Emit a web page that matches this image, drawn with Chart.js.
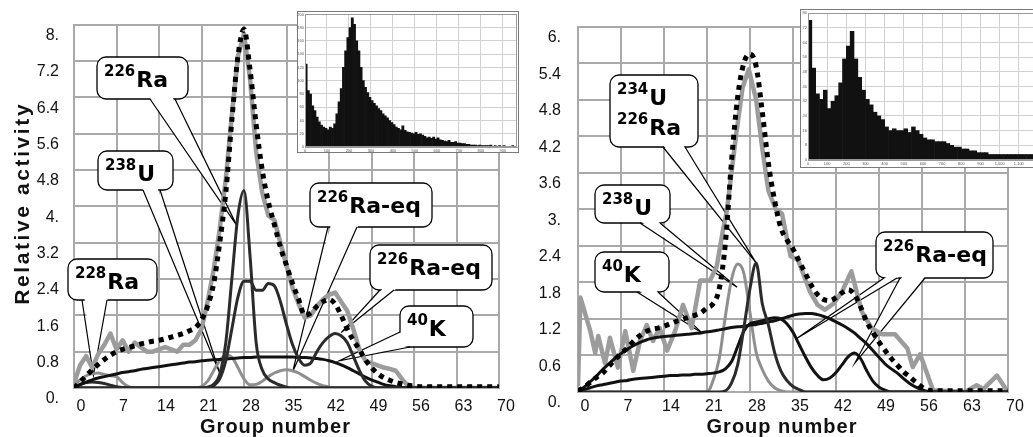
<!DOCTYPE html>
<html><head><meta charset="utf-8">
<script src="https://cdn.jsdelivr.net/npm/chart.js@4/dist/chart.umd.min.js"></script>
<style>
html,body{margin:0;padding:0;background:#fff;width:1033px;height:437px;overflow:hidden;position:relative;}
canvas{position:absolute;}
</style></head><body>
<canvas id="left" width="520" height="437" style="left:0;top:0"></canvas>
<canvas id="right" width="528" height="437" style="left:505px;top:0"></canvas>
<canvas id="insetL" width="222" height="142" style="left:297px;top:11px"></canvas>
<canvas id="insetR" width="244" height="159" style="left:800px;top:9px"></canvas>
<script>
// ---------------- DATA ----------------
const groups = [0,1,2,3,4,5,6,7,8,9,10,11,12,13,14,15,16,17,18,19,20,21,22,23,24,25,26,27,28,29,30,31,32,33,34,35,36,37,38,39,40,41,42,43,44,45,46,47,48,49,50,51,52,53,54,55,56,57,58,59,60,61,62,63,64,65,66,67,68,69,70];

// Left panel
const L_total = [0,0.13,0.27,0.4,0.52,0.63,0.72,0.8,0.85,0.89, 0.93,0.97,1.0,1.03,1.05,1.08,1.12,1.16,1.2,1.26, 1.33,1.5,1.8,2.3,3.2,4.3,5.9,7.3,7.9,7.0, 5.8,4.8,4.1,3.6,3.1,2.7,2.3,1.95,1.6,1.65, 1.8,1.9,1.95,1.85,1.6,1.3,1.05,0.85,0.62,0.45, 0.32,0.23,0.17,0.12,0.09,0.06,0.04,0.03,0.03,0.03, 0.03,0.03,0.03,0.03,0.03,0.03,0.03,0.03,0.03,0.03, 0.03];
const L_measured = [0.1,0.5,0.7,0.45,0.75,0.95,1.2,0.85,1.05,0.8, 1.0,0.9,0.8,0.8,0.85,0.9,0.85,0.8,0.95,0.95, 1.05,1.3,1.9,2.6,3.5,4.6,6.0,7.3,7.8,6.8, 5.2,4.3,3.8,3.7,3.2,2.7,2.2,1.85,1.55,1.6, 1.8,1.95,2.05,2.1,1.9,1.7,1.3,0.85,0.6,0.55, 0.5,0.45,0.42,0.38,0.2,0.05,0,0,0,0, 0,0,0,0,0,0,0,0,0,0, 0];
const L_Ra226 = [0,0,0,0,0,0,0,0,0,0, 0,0,0,0,0,0,0,0,0,0, 0,0,0.02,0.08,0.3,1.0,2.4,3.8,4.35,2.9, 1.0,0.4,0.2,0.12,0.06,0.02,0,0,0,0, 0,0,0,0,0,0,0,0,0,0, 0,0,0,0,0,0,0,0,0,0, 0,0,0,0,0,0,0,0,0,0, 0];
const L_RaEq = [0,0,0,0,0,0,0,0,0,0, 0,0,0,0,0,0,0,0,0,0, 0,0,0,0.05,0.2,0.6,1.3,2.0,2.35,2.35, 2.15,2.15,2.3,2.25,1.9,1.4,0.95,0.65,0.5,0.55, 0.8,1.0,1.13,1.2,1.15,1.0,0.7,0.39,0.15,0.04, 0,0,0,0,0,0,0,0,0,0, 0,0,0,0,0,0,0,0,0,0, 0];
const L_K40 = [0,0.07,0.13,0.18,0.22,0.25,0.28,0.31,0.34,0.36, 0.38,0.41,0.43,0.45,0.47,0.49,0.51,0.53,0.55,0.57, 0.58,0.6,0.61,0.62,0.63,0.64,0.65,0.66,0.67,0.67, 0.68,0.68,0.68,0.68,0.68,0.68,0.68,0.67,0.67,0.66, 0.65,0.63,0.6,0.56,0.51,0.45,0.38,0.31,0.24,0.18, 0.13,0.08,0.05,0.03,0.01,0,0,0,0,0, 0,0,0,0,0,0,0,0,0,0, 0];
const L_U238 = [0,0,0,0,0,0,0,0,0,0, 0,0,0,0,0,0,0,0,0,0, 0,0.03,0.15,0.38,0.6,0.72,0.68,0.45,0.2,0.07, 0.08,0.15,0.25,0.33,0.38,0.4,0.38,0.33,0.25,0.17, 0.1,0.05,0.02,0,0,0,0,0,0,0, 0,0,0,0,0,0,0,0,0,0, 0,0,0,0,0,0,0,0,0,0, 0];
const L_Ra228 = [0.05,0.18,0.27,0.32,0.33,0.3,0.27,0.25,0.12,0.03, 0,0,0,0,0,0,0,0,0,0, 0,0,0,0,0,0,0,0,0,0, 0,0,0,0,0,0,0,0,0,0, 0,0,0,0,0,0,0,0,0,0, 0,0,0,0,0,0,0,0,0,0, 0,0,0,0,0,0,0,0,0,0, 0];
const L_Th = [0,0.08,0.12,0.13,0.12,0.1,0.06,0.03,0.01,0, 0,0,0,0,0,0,0,0,0,0, 0,0,0,0,0,0,0,0,0,0, 0,0,0,0,0,0,0,0,0,0, 0,0,0,0,0,0,0,0,0,0, 0,0,0,0,0,0,0,0,0,0, 0,0,0,0,0,0,0,0,0,0, 0];

// Right panel
const R_total = [0.02,0.08,0.16,0.24,0.31,0.42,0.53,0.63,0.72,0.83, 0.92,0.99,1.03,1.05,1.08,1.12,1.16,1.19,1.23,1.26, 1.3,1.38,1.45,1.7,2.45,3.8,4.85,5.4,5.55,5.35, 4.6,3.75,3.15,2.7,2.5,2.35,2.15,1.95,1.75,1.6, 1.52,1.5,1.55,1.63,1.68,1.6,1.4,1.15,0.98,0.82, 0.68,0.55,0.44,0.33,0.25,0.16,0.08,0.03,0.02,0.02, 0.02,0.02,0.02,0.02,0.02,0.02,0.02,0.02,0.02,0.02, 0.02];
const R_measuredX = [0,0.4,2,2.8,3.3,4.4,5.2,6.5,7.7,9,10.1,11.2,12.2,13.3,14.5,15.8,17.1,18.5,19.9,21.5,22.6,23.6,24.2,25.8,26.8,27.8,29,30,31,32.2,33.2,34.6,35.8,37.8,39,40.2,41.6,43,44.5,46.2,47.8,49.4,51.6,53.6,54.5,55.7,57.8,63,64.9,66,68.2,70];
const R_measuredY = [0.1,1.55,1.0,0.64,0.92,0.47,0.89,0.4,1.0,0.35,0.84,1.1,0.84,1.05,0.68,1.0,1.43,1.05,1.83,1.83,2.07,2.66,2.95,4.27,5.0,5.3,4.8,4.0,3.3,3.0,2.93,2.23,2.17,1.64,1.43,1.35,1.45,1.65,1.98,1.32,1.05,0.95,0.95,0.72,0.41,0.62,0.03,0,0.11,0.05,0.27,0];
const R_U234Ra226 = [0,0,0,0,0,0,0,0,0,0, 0,0,0,0,0,0,0,0,0,0, 0,0,0,0,0.02,0.15,0.45,1.05,1.7,2.12, 1.45,1.1,0.65,0.35,0.19,0.09,0.04,0,0,0, 0,0,0,0,0,0,0,0,0,0, 0,0,0,0,0,0,0,0,0,0, 0,0,0,0,0,0,0,0,0,0, 0];
const R_U238 = [0,0,0,0,0,0,0,0,0,0, 0,0,0,0,0,0,0,0,0,0, 0,0,0.19,0.55,1.25,1.85,2.1,1.95,1.3,0.65, 0.37,0.18,0.07,0.02,0,0,0,0,0,0, 0,0,0,0,0,0,0,0,0,0, 0,0,0,0,0,0,0,0,0,0, 0,0,0,0,0,0,0,0,0,0, 0];
const R_RaEq = [0,0.04,0.07,0.1,0.12,0.14,0.16,0.18,0.19,0.21, 0.22,0.23,0.24,0.25,0.26,0.27,0.27,0.28,0.28,0.29, 0.29,0.3,0.31,0.33,0.38,0.5,0.75,1.0,1.12,1.15, 1.17,1.2,1.22,1.2,1.12,0.98,0.78,0.58,0.4,0.27, 0.2,0.23,0.32,0.45,0.58,0.64,0.55,0.35,0.18,0.08, 0.03,0,0,0,0,0,0,0,0,0, 0,0,0,0,0,0,0,0,0,0, 0];
const R_K40 = [0,0.08,0.17,0.26,0.37,0.46,0.55,0.63,0.7,0.76, 0.81,0.85,0.88,0.9,0.91,0.92,0.93,0.94,0.95,0.96, 0.97,0.99,1.0,1.02,1.04,1.06,1.07,1.08,1.1,1.11, 1.13,1.15,1.17,1.2,1.23,1.26,1.28,1.29,1.29,1.27, 1.24,1.2,1.15,1.1,1.04,0.97,0.88,0.79,0.68,0.57, 0.46,0.38,0.31,0.22,0.14,0.08,0.04,0.01,0,0, 0,0,0,0,0,0,0,0,0,0, 0];

// Inset spectra (counts per channel bin)
const insetL_binWidth = 10;
const insetL_counts = [125,85,80,62,55,45,38,33,30,28, 26,30,28,35,50,68,88,120,145,165, 180,195,185,160,145,120,100,90,82,75, 70,66,62,58,55,50,47,44,40,37, 34,30,28,26,32,25,23,22,21,20, 22,19,20,18,16,14,15,13,15,12, 14,11,10,9,8,10,7,7,8,6, 6,5,5,4,4,3,3,3,2,3, 2,2,2,2,3,1,2,1,2,1, 2,1,1,1,2,1];
const insetR_binWidth = 20;
const insetR_counts = [76,50,36,33,38,28,32,35,42,55, 62,70,55,45,38,33,30,26,24,22, 18,16,17,16,16,17,15,18,16,14, 12,11,11,10,10,10,9,8,7,7, 6,6,5,5,4,4,4,3,3,3, 3,3,3,3,3,3,3,3,3,3];

// Tick settings
const xTickStep = 7;
const leftYMax = 8, leftYStep = 0.8;
const rightYMax = 6, rightYStep = 0.6;

// ---------------- HELPERS ----------------
Chart.defaults.font.family = '"Liberation Sans", Arial, sans-serif';
const GRID = '#a9a9a9';
const pts = (xs, ys) => ys.map((y, i) => ({x: xs[i], y}));
const fmtY = v => { const r = Math.round(v * 10) / 10; return Number.isInteger(r) ? r + '.' : r.toFixed(1); };

function lineDs(data, kind) {
  const base = {data, pointRadius: 0, fill: false, borderCapStyle: 'butt', borderJoinStyle: 'round'};
  if (kind === 'total') return Object.assign(base, {borderColor: '#000', borderWidth: 5, borderDash: [5, 5], cubicInterpolationMode: 'monotone'});
  if (kind === 'measured') return Object.assign(base, {borderColor: '#9c9c9c', borderWidth: 4.5, tension: 0});
  if (kind === 'dark') return Object.assign(base, {borderColor: '#2b2b2b', borderWidth: 3, cubicInterpolationMode: 'monotone'});
  if (kind === 'black') return Object.assign(base, {borderColor: '#111', borderWidth: 3, cubicInterpolationMode: 'monotone'});
  return Object.assign(base, {borderColor: '#8f8f8f', borderWidth: 3, cubicInterpolationMode: 'monotone'});
}

function calloutPlugin(items, offX) {
  return {
    id: 'callouts',
    beforeDatasetsDraw(chart) {
      const {ctx} = chart, xs = chart.scales.x, ys = chart.scales.y;
      ctx.save();
      for (const c of items) {
        const x1 = c.box[0] - offX, y1 = c.box[1], x2 = c.box[2] - offX, y2 = c.box[3];
        const r = 9;
        ctx.beginPath();
        ctx.moveTo(x1 + r, y1);
        ctx.arcTo(x2, y1, x2, y2, r); ctx.arcTo(x2, y2, x1, y2, r);
        ctx.arcTo(x1, y2, x1, y1, r); ctx.arcTo(x1, y1, x2, y1, r);
        ctx.closePath();
        ctx.fillStyle = '#fff'; ctx.fill();
        ctx.lineWidth = 1.3; ctx.strokeStyle = '#000'; ctx.stroke();
        const cx = (x1 + x2) / 2, cy = (y1 + y2) / 2;
        for (const w of c.wedges) {
          const tx = xs.getPixelForValue(w.tip[0]), ty = ys.getPixelForValue(w.tip[1]);
          const ax = w.a[0] - offX, ay = w.a[1], bx = w.b[0] - offX, by = w.b[1];
          const inw = (px, py) => { const dx = cx - px, dy = cy - py, d = Math.hypot(dx, dy); return [px + dx / d * 3, py + dy / d * 3]; };
          const ia = inw(ax, ay), ib = inw(bx, by);
          ctx.beginPath(); ctx.moveTo(ia[0], ia[1]); ctx.lineTo(tx, ty); ctx.lineTo(ib[0], ib[1]); ctx.closePath();
          ctx.fillStyle = '#fff'; ctx.fill();
          ctx.beginPath(); ctx.moveTo(ax, ay); ctx.lineTo(tx, ty); ctx.lineTo(bx, by);
          ctx.strokeStyle = '#000'; ctx.lineWidth = 1.2; ctx.stroke();
        }
        ctx.fillStyle = '#000'; ctx.textAlign = 'left'; ctx.textBaseline = 'alphabetic';
        c.lines.forEach((ln, i) => {
          let tx = x1 + 7; const base = y1 + 30 + 30 * i;
          ctx.font = 'bold 15px "DejaVu Sans"'; ctx.fillText(ln[0], tx, base - 11);
          tx += ctx.measureText(ln[0]).width + 1;
          ctx.font = 'bold 22px "DejaVu Sans"'; ctx.fillText(ln[1], tx, base);
        });
      }
      ctx.restore();
    }
  };
}

function titlePlugin(opts) {
  return {
    id: 'axisTitles',
    afterDraw(chart) {
      const {ctx} = chart;
      ctx.save();
      ctx.fillStyle = '#111'; ctx.textAlign = 'center'; ctx.textBaseline = 'alphabetic';
      ctx.font = 'bold 20px "Liberation Sans", Arial';
      ctx.letterSpacing = '1px';
      const a = chart.chartArea;
      ctx.fillText('Group number', (a.left + a.right) / 2 - 11, 433);
      if (opts.yTitle) {
        ctx.translate(29, (a.top + a.bottom) / 2 - 3);
        ctx.rotate(-Math.PI / 2);
        ctx.font = 'bold 21px "Liberation Sans", Arial';
        ctx.letterSpacing = '2.6px';
        ctx.fillText(opts.yTitle, 0, 0);
      }
      ctx.restore();
    }
  };
}

function mainChart(id, datasets, o) {
  return new Chart(document.getElementById(id), {
    type: 'line',
    data: {datasets},
    options: {
      responsive: false, animation: false, devicePixelRatio: 1,
      layout: {padding: {top: 19, right: o.padR, left: 0, bottom: 0}},
      plugins: {legend: {display: false}, tooltip: {enabled: false}},
      scales: {
        x: {type: 'linear', min: 0, max: 70,
            afterFit: s => { s.height = o.xH; },
            ticks: {stepSize: xTickStep, autoSkip: false, maxRotation: 0, padding: o.xPad, labelOffset: 7, color: '#111', font: {size: 16}},
            grid: {color: GRID, lineWidth: 2, drawTicks: false}, border: {color: GRID, width: 2}},
        y: {type: 'linear', min: 0, max: o.yMax,
            afterFit: s => { s.width = o.yW; },
            ticks: {stepSize: o.yStep, autoSkip: false, padding: o.yPad, labelOffset: 11, color: '#111', font: {size: 16}, callback: fmtY},
            grid: {color: GRID, lineWidth: 2, drawTicks: false}, border: {color: GRID, width: 2}}
      }
    },
    plugins: [calloutPlugin(o.callouts, o.offX), titlePlugin(o)]
  });
}

// ---------------- LEFT PANEL ----------------
const leftCallouts = [
  {box: [97, 57, 188, 99], lines: [['226', 'Ra']], wedges: [{a: [150, 99], b: [175, 99], tip: [26.8, 3.58]}]},
  {box: [98, 151, 173, 190], lines: [['238', 'U']], wedges: [{a: [143, 190], b: [160, 190], tip: [24.0, 0.33]}]},
  {box: [68, 259, 157, 300], lines: [['228', 'Ra']], wedges: [{a: [82, 300], b: [107, 300], tip: [3.2, 0.28]}]},
  {box: [310, 183, 432, 227], lines: [['226', 'Ra-eq']], wedges: [{a: [328, 227], b: [357, 227], tip: [36.0, 0.35]}]},
  {box: [370, 245, 492, 290], lines: [['226', 'Ra-eq']], wedges: [{a: [380, 290], b: [394, 290], tip: [44.0, 1.22]}]},
  {box: [400, 306, 473, 347], lines: [['40', 'K']], wedges: [{a: [400, 332], b: [410, 347], tip: [43.7, 0.6]}]}
];
mainChart('left', [
  lineDs(pts(groups, L_total), 'total'),
  lineDs(pts(groups, L_Ra226), 'dark'),
  lineDs(pts(groups, L_RaEq), 'dark'),
  lineDs(pts(groups, L_K40), 'black'),
  lineDs(pts(groups, L_Th), 'dark'),
  lineDs(pts(groups, L_U238), 'gray'),
  lineDs(pts(groups, L_Ra228), 'gray'),
  lineDs(pts(groups, L_measured), 'measured')
], {padR: 21, xH: 49, yW: 74, xPad: 9, yPad: 15, yMax: leftYMax, yStep: leftYStep, callouts: leftCallouts, offX: 0, yTitle: 'Relative activity'});

// ---------------- RIGHT PANEL ----------------
const rightCallouts = [
  {box: [610, 75, 698, 147], lines: [['234', 'U'], ['226', 'Ra']], wedges: [{a: [663, 147], b: [685, 147], tip: [29.0, 2.12]}]},
  {box: [595, 185, 670, 223], lines: [['238', 'U']], wedges: [{a: [640, 223], b: [660, 223], tip: [25.9, 1.72]}]},
  {box: [595, 252, 669, 292], lines: [['40', 'K']], wedges: [{a: [637, 292], b: [658, 292], tip: [20.2, 0.97]}]},
  {box: [876, 232, 993, 278], lines: [['226', 'Ra-eq']], wedges: [
    {a: [884, 278], b: [897, 278], tip: [35.6, 0.88]},
    {a: [900, 278], b: [925, 278], tip: [45.1, 0.48]}]}
];
mainChart('right', [
  lineDs(pts(groups, R_total), 'total'),
  lineDs(pts(groups, R_U234Ra226), 'dark'),
  lineDs(pts(groups, R_RaEq), 'black'),
  lineDs(pts(groups, R_K40), 'black'),
  lineDs(pts(groups, R_U238), 'gray'),
  lineDs(pts(R_measuredX, R_measuredY), 'measured')
], {padR: 25, xH: 45, yW: 73, xPad: 5, yPad: 17, yMax: rightYMax, yStep: rightYStep, callouts: rightCallouts, offX: 505, yTitle: null});

// ---------------- INSETS ----------------
const insetFrame = {
  id: 'insetFrame',
  beforeDraw(chart) {
    const {ctx, width, height} = chart;
    ctx.save(); ctx.fillStyle = '#fff'; ctx.fillRect(0, 0, width, height);
    ctx.strokeStyle = '#7a7a7a'; ctx.lineWidth = 1; ctx.strokeRect(0.5, 0.5, width - 1, height - 1); ctx.restore();
  },
  afterDraw(chart) {
    const {ctx} = chart, a = chart.chartArea;
    ctx.save(); ctx.strokeStyle = '#999'; ctx.lineWidth = 1;
    ctx.strokeRect(Math.round(a.left) + 0.5, Math.round(a.top) + 0.5, Math.round(a.width) - 1, Math.round(a.height) - 1); ctx.restore();
  }
};
function insetChart(id, binW, counts, o) {
  const data = counts.map((c, i) => ({x: i * binW + binW / 2, y: c}));
  return new Chart(document.getElementById(id), {
    type: 'bar',
    data: {datasets: [{data, backgroundColor: '#111', borderWidth: 0, barPercentage: 1, categoryPercentage: 1}]},
    options: {
      responsive: false, animation: false, devicePixelRatio: 1,
      layout: {padding: {top: o.padT, right: o.padR, left: 0, bottom: 0}},
      plugins: {legend: {display: false}, tooltip: {enabled: false}},
      scales: {
        x: {type: 'linear', min: 0, max: o.xMax, offset: false, afterFit: s => { s.height = o.xH; },
            ticks: {stepSize: 100, includeBounds: false, autoSkip: false, maxRotation: 0, padding: 1, color: '#555', font: {size: 4}},
            grid: {color: '#d2d2d2', lineWidth: 1, drawTicks: false, offset: false}, border: {color: '#999'}},
        y: {type: 'linear', min: 0, max: o.yMax, afterFit: s => { s.width = o.yW; },
            ticks: {stepSize: o.yStep, autoSkip: false, padding: 1, color: '#555', font: {size: 4}},
            grid: {color: '#d2d2d2', lineWidth: 1, drawTicks: false}, border: {color: '#999'}}
      }
    },
    plugins: [insetFrame]
  });
}
insetChart('insetL', insetL_binWidth, insetL_counts, {padT: 2, padR: 2, xH: 6, yW: 8, xMax: 964, yMax: 200, yStep: 20});
insetChart('insetR', insetR_binWidth, insetR_counts, {padT: 4, padR: 4, xH: 8, yW: 8, xMax: 1200, yMax: 80, yStep: 8});
</script>
</body></html>
